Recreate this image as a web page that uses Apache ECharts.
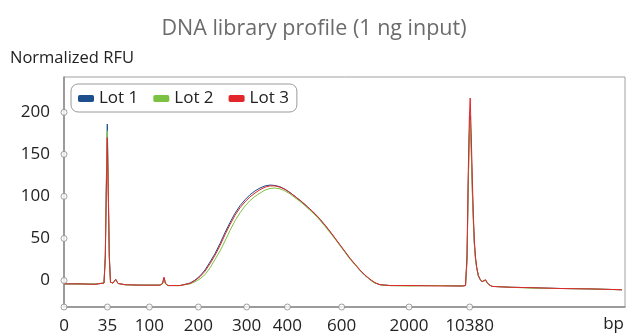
<!DOCTYPE html>
<html>
<head>
<meta charset="utf-8">
<script src="https://cdn.jsdelivr.net/npm/echarts@6/dist/echarts.min.js"></script>
<style>
html,body{margin:0;padding:0;background:#fff;}
#chart{width:628px;height:335px;}
</style>
</head>
<body>
<div id="chart"></div>
<script>
// migration position (arbitrary units along the electropherogram axis)
var migration = [0,16,31,40,41.3,42.2,43.3,44.4,45.3,46.5,49,51.7,54,61,76,96,98.5,100,101.5,104,116,126,131,136,141,146,151,156,161,166,171,176,181,186,191,196,201,206,211,216,221,226,231,236,241,246,251,256,261,266,271,276,281,286,291,296,301,306,311,316,326,346,376,398,401.5,403,404.3,405.3,406.2,407.2,408.3,409.3,410.3,411.5,412.7,414.3,416,418,420,421.5,423,425,428,446,466,496,526,558];
var lot1 = [-4,-4,-4.5,-3,30,106,186,101,30,-2,-3,1,-3.5,-5,-5.5,-5.5,-3.5,3,-3.5,-6,-6,-3,0.5,5.5,12.5,22,32,44,57,69,80,89,96,102,106.5,110,112.5,113.5,113,111.5,108.5,104.5,100,95,90,84.5,79,72.5,65.5,58,50,42,34,26,19,12,6,1,-3,-5,-6,-6,-6,-6.5,-6,25,120,176,196,161,110,75,45,26,15,6,1.5,-1.5,0,0.5,-2.5,-5,-7,-8,-8.5,-9.5,-10,-11];
var lot2 = [-4,-4.5,-4,-3,28,101,178,97,28,-2,-3,1,-3.5,-5,-5.5,-5.5,-4,1,-4,-6,-6,-4,-1.5,2,7,15,25,35,47,59.5,71,80.5,88.5,95,100,104,107.5,109.5,110,109,106.5,103,98.5,94,89,83.5,78,71.5,64.5,57,49.5,41.5,33.5,25.5,18.5,12,6,1,-3,-5,-6,-6.5,-6,-6.5,-6,22,115,171,191,156,105,70,43,25,15,6,2,-1,0.5,0,-2.5,-5,-7,-8,-9,-9.5,-10,-11];
var lot3 = [-4,-4,-4.5,-3,26,96,170,93,27,-2,-3,1.5,-3.5,-5,-5.5,-5.5,-3.5,4,-3.5,-6,-6,-3.5,0,4.5,11,20,30,41.5,54.5,66.5,77.5,86.5,93.5,99.5,104,108,111,112.5,112.5,111,108.5,104.5,100,95.5,90.5,85,79.5,73,66,58.5,50.5,42.5,34.5,26.5,19.5,12.5,6.5,1.5,-2.5,-5,-6,-6,-6.5,-6.5,-6,30,131,192,217,176,121,80,48,28,16,6,1.5,-1.5,0,1,-2,-5,-7,-8,-8.5,-9.5,-10,-11];

var lotNames = ['Lot 1','Lot 2','Lot 3'];
var lotColors = ['#1c4f8c','#7cc242','#e2262b'];

// x-axis ticks: positions on the migration axis and their bp labels
var bpTickPos = [0,43.4,85.4,134.4,182.7,223.4,277.7,345,405.7];
var bpTickLabels = ['0','35','100','200','300','400','600','2000','10380'];
var rfuTicks = [0,50,100,150,200];

var X_MIN = 0, X_MAX = 561, Y_MIN = -31.5, Y_MAX = 242;
var FONT = 'Open Sans';

function lotData(vals){
  return migration.map(function(x,i){return [x, vals[i]];});
}
var lots = [lot1, lot2, lot3];
var series = lots.map(function(vals,i){
  return {
    name: lotNames[i], type:'line', data: lotData(vals),
    showSymbol:false, symbol:'none', smooth:false,
    lineStyle:{color:lotColors[i], width:1},
    itemStyle:{color:lotColors[i]},
    z: 2 + i, silent:true
  };
});
var tickStyle = {color:'#fff', borderColor:'#8a8a8a', borderWidth:1};
series.push({
  type:'scatter', name:'xticks', clip:false, silent:true, z:10,
  symbol:'circle', symbolSize:6, itemStyle:tickStyle,
  data: bpTickPos.map(function(p){return [p, Y_MIN];})
});
series.push({
  type:'scatter', name:'yticks', clip:false, silent:true, z:10,
  symbol:'circle', symbolSize:6, itemStyle:tickStyle,
  data: rfuTicks.map(function(v){return [X_MIN, v];})
});

var chart = echarts.init(document.getElementById('chart'), null, {renderer:'canvas'});
chart.setOption({
  animation:false,
  backgroundColor:'#fff',
  textStyle:{fontFamily:FONT},
  title:{
    text:'DNA library profile (1 ng input)',
    left:'center', top:13,
    textStyle:{fontFamily:FONT, fontSize:21.5, fontWeight:'normal', color:'#6b6b6b'}
  },
  legend:{
    data:lotNames, left:71, top:84,
    icon:'roundRect', itemWidth:16, itemHeight:7, itemGap:15,
    padding:[6,8,5,7],
    borderColor:'#9a9a9a', borderWidth:1, borderRadius:7,
    textStyle:{fontFamily:FONT, fontSize:17, color:'#222'}
  },
  grid:{left:64, right:3, top:77, bottom:28, show:true, borderColor:'#a0a0a0', borderWidth:1, containLabel:false},
  xAxis:{
    type:'value', min:X_MIN, max:X_MAX,
    axisLine:{show:true, onZero:false, lineStyle:{color:'#8a8a8a', width:1.5}},
    axisTick:{show:false},
    splitLine:{show:false},
    axisLabel:{
      customValues: bpTickPos, margin:11, fontSize:17, color:'#222', fontFamily:FONT,
      formatter:function(v){
        var best=0, d=1e9;
        for(var i=0;i<bpTickPos.length;i++){var dd=Math.abs(bpTickPos[i]-v); if(dd<d){d=dd;best=i;}}
        return bpTickLabels[best];
      }
    }
  },
  yAxis:{
    type:'value', min:Y_MIN, max:Y_MAX,
    axisLine:{show:true, onZero:false, lineStyle:{color:'#8a8a8a', width:1.5}},
    axisTick:{show:false},
    splitLine:{show:false},
    axisLabel:{customValues: rfuTicks, margin:14, fontSize:17, color:'#222', fontFamily:FONT}
  },
  graphic:[
    {type:'text', left:10, top:50, style:{text:'Normalized RFU', fontFamily:FONT, fontSize:16.5, fill:'#222'}},
    {type:'text', right:4, top:316, style:{text:'bp', fontFamily:FONT, fontSize:17, fill:'#222'}}
  ],
  series: series
});
</script>
</body>
</html>
